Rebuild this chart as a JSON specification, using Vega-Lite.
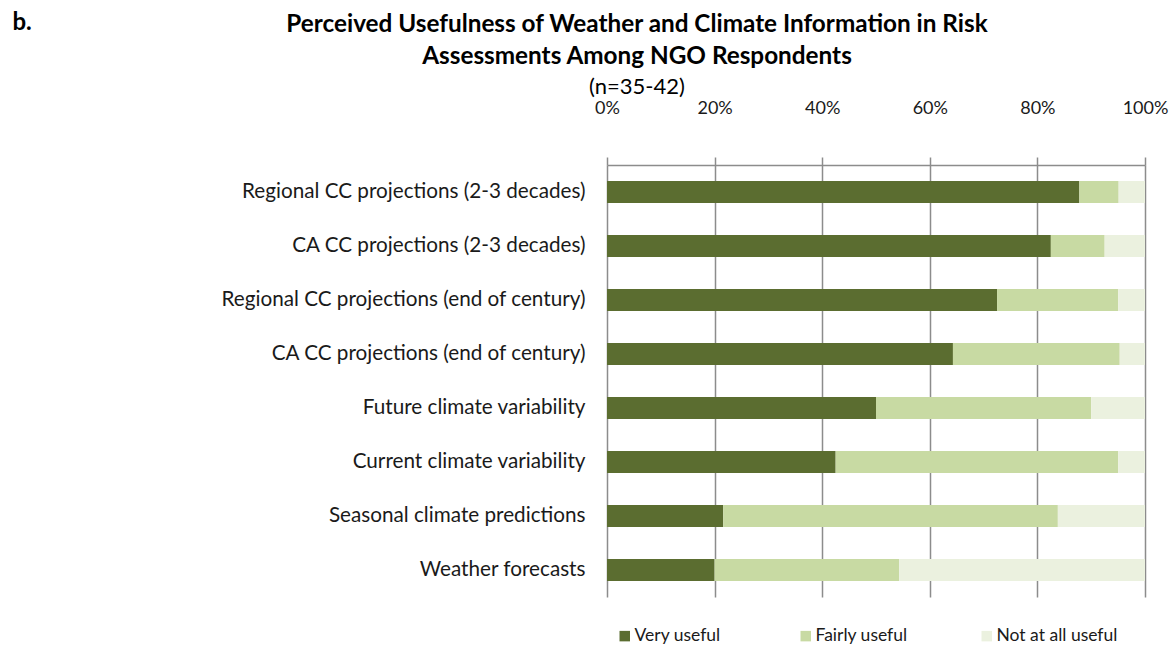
{
  "$schema": "https://vega.github.io/schema/vega-lite/v6.json",
  "autosize": "none",
  "width": 538,
  "height": 432,
  "padding": {"left": 607, "top": 165, "right": 28, "bottom": 50},
  "background": "white",
  "title": {
    "text": ["Perceived Usefulness of Weather and Climate Information in Risk", "Assessments Among NGO Respondents"],
    "subtitle": "(n=35-42)",
    "anchor": "middle",
    "dx": -239,
    "dy": 90,
    "offset": 2,
    "font": "Lato",
    "fontSize": 24.3,
    "fontWeight": "bold",
    "lineHeight": 32,
    "color": "#000000",
    "subtitleFont": "Lato",
    "subtitleFontSize": 22,
    "subtitleColor": "#000000",
    "subtitlePadding": 8
  },
  "data": {
    "values": [
      {"item": "Regional CC projections (2-3 decades)", "level": "Very useful", "o": 1, "v": 0.878},
      {"item": "Regional CC projections (2-3 decades)", "level": "Fairly useful", "o": 2, "v": 0.073},
      {"item": "Regional CC projections (2-3 decades)", "level": "Not at all useful", "o": 3, "v": 0.049},
      {"item": "CA CC projections (2-3 decades)", "level": "Very useful", "o": 1, "v": 0.825},
      {"item": "CA CC projections (2-3 decades)", "level": "Fairly useful", "o": 2, "v": 0.100},
      {"item": "CA CC projections (2-3 decades)", "level": "Not at all useful", "o": 3, "v": 0.075},
      {"item": "Regional CC projections (end of century)", "level": "Very useful", "o": 1, "v": 0.725},
      {"item": "Regional CC projections (end of century)", "level": "Fairly useful", "o": 2, "v": 0.225},
      {"item": "Regional CC projections (end of century)", "level": "Not at all useful", "o": 3, "v": 0.050},
      {"item": "CA CC projections (end of century)", "level": "Very useful", "o": 1, "v": 0.643},
      {"item": "CA CC projections (end of century)", "level": "Fairly useful", "o": 2, "v": 0.310},
      {"item": "CA CC projections (end of century)", "level": "Not at all useful", "o": 3, "v": 0.047},
      {"item": "Future climate variability", "level": "Very useful", "o": 1, "v": 0.500},
      {"item": "Future climate variability", "level": "Fairly useful", "o": 2, "v": 0.400},
      {"item": "Future climate variability", "level": "Not at all useful", "o": 3, "v": 0.100},
      {"item": "Current climate variability", "level": "Very useful", "o": 1, "v": 0.425},
      {"item": "Current climate variability", "level": "Fairly useful", "o": 2, "v": 0.525},
      {"item": "Current climate variability", "level": "Not at all useful", "o": 3, "v": 0.050},
      {"item": "Seasonal climate predictions", "level": "Very useful", "o": 1, "v": 0.216},
      {"item": "Seasonal climate predictions", "level": "Fairly useful", "o": 2, "v": 0.622},
      {"item": "Seasonal climate predictions", "level": "Not at all useful", "o": 3, "v": 0.162},
      {"item": "Weather forecasts", "level": "Very useful", "o": 1, "v": 0.200},
      {"item": "Weather forecasts", "level": "Fairly useful", "o": 2, "v": 0.343},
      {"item": "Weather forecasts", "level": "Not at all useful", "o": 3, "v": 0.457}
    ]
  },
  "mark": {"type": "bar", "size": 22},
  "encoding": {
    "y": {
      "field": "item",
      "type": "nominal",
      "sort": null,
      "scale": {"paddingInner": 0.59, "paddingOuter": 0.295},
      "axis": {
        "title": "b.",
        "titleAngle": 0,
        "titleX": -595,
        "titleY": -143,
        "titleAlign": "left",
        "titleBaseline": "middle",
        "titleFont": "Lato",
        "titleFontSize": 24,
        "titleFontWeight": "bold",
        "titleColor": "#000000",
        "domain": false,
        "ticks": false,
        "labelPadding": 22,
        "labelFont": "Lato",
        "labelFontSize": 20.7,
        "labelColor": "#1a1a1a",
        "labelLimit": 500
      }
    },
    "x": {
      "field": "v",
      "type": "quantitative",
      "stack": "zero",
      "scale": {"domain": [0, 1], "nice": false},
      "axis": {
        "orient": "top",
        "title": null,
        "format": ".0%",
        "values": [0, 0.2, 0.4, 0.6, 0.8, 1],
        "labelFlush": false,
        "labelOverlap": false,
        "domainColor": "#8c8c8c",
        "domainWidth": 1.5,
        "tickColor": "#8c8c8c",
        "tickSize": 8,
        "tickWidth": 1.5,
        "gridColor": "#8c8c8c",
        "gridWidth": 1.5,
        "labelPadding": 40,
        "labelFont": "Lato",
        "labelFontSize": 18,
        "labelColor": "#1a1a1a"
      }
    },
    "color": {
      "field": "level",
      "type": "nominal",
      "scale": {
        "domain": ["Very useful", "Fairly useful", "Not at all useful"],
        "range": ["#5b6d30", "#c8daa3", "#ebf1df"]
      },
      "legend": {
        "title": null,
        "orient": "none",
        "direction": "horizontal",
        "legendX": 9,
        "legendY": 462,
        "symbolType": "square",
        "symbolSize": 110,
        "symbolStrokeWidth": 0,
        "labelFont": "Lato",
        "labelFontSize": 17.5,
        "labelColor": "#1a1a1a",
        "labelOffset": 1,
        "gridAlign": "all",
        "columnPadding": 41
      }
    },
    "order": {"field": "o", "type": "quantitative"}
  },
  "config": {"view": {"stroke": null}}
}
